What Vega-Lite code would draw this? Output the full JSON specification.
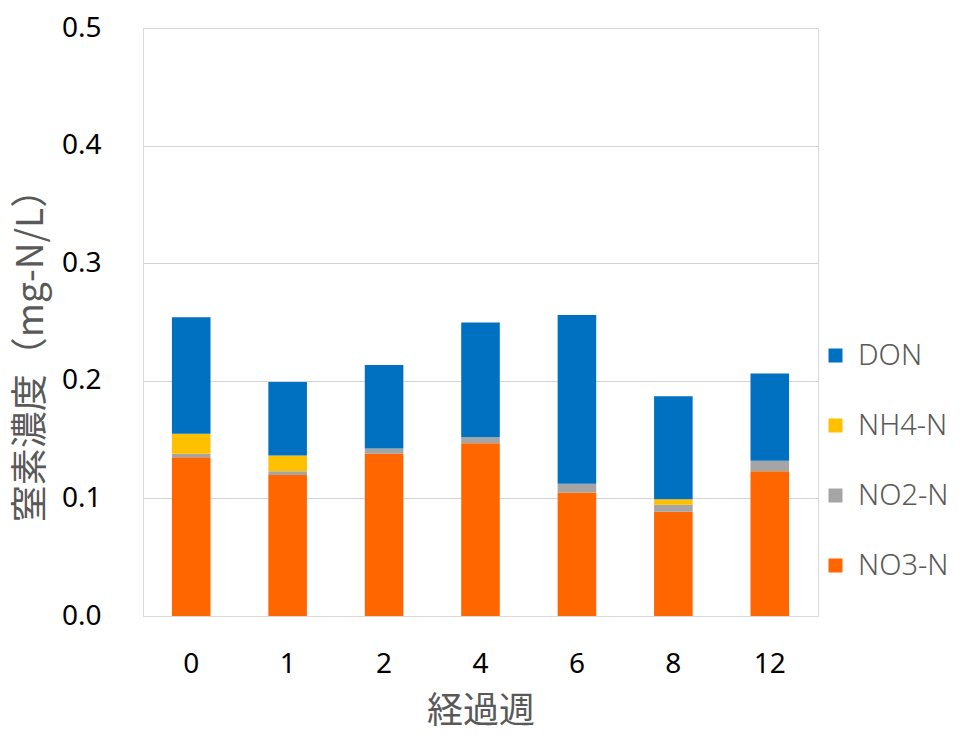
{
  "$schema": "https://vega.github.io/schema/vega-lite/v6.json",
  "width": 675,
  "height": 588,
  "autosize": {"type": "none"},
  "padding": {"left": 143, "top": 28, "right": 142, "bottom": 118},
  "background": "white",
  "config": {
    "view": {"stroke": "#d9d9d9", "strokeWidth": 1},
    "font": "Noto Sans"
  },
  "data": {
    "values": [
      {"week": "0", "species": "NO3-N", "o": 1, "value": 0.135},
      {"week": "0", "species": "NO2-N", "o": 2, "value": 0.003},
      {"week": "0", "species": "NH4-N", "o": 3, "value": 0.017},
      {"week": "0", "species": "DON", "o": 4, "value": 0.099},
      {"week": "1", "species": "NO3-N", "o": 1, "value": 0.120},
      {"week": "1", "species": "NO2-N", "o": 2, "value": 0.003},
      {"week": "1", "species": "NH4-N", "o": 3, "value": 0.0135},
      {"week": "1", "species": "DON", "o": 4, "value": 0.0625},
      {"week": "2", "species": "NO3-N", "o": 1, "value": 0.138},
      {"week": "2", "species": "NO2-N", "o": 2, "value": 0.0045},
      {"week": "2", "species": "NH4-N", "o": 3, "value": 0.0},
      {"week": "2", "species": "DON", "o": 4, "value": 0.071},
      {"week": "4", "species": "NO3-N", "o": 1, "value": 0.147},
      {"week": "4", "species": "NO2-N", "o": 2, "value": 0.005},
      {"week": "4", "species": "NH4-N", "o": 3, "value": 0.0},
      {"week": "4", "species": "DON", "o": 4, "value": 0.0975},
      {"week": "6", "species": "NO3-N", "o": 1, "value": 0.105},
      {"week": "6", "species": "NO2-N", "o": 2, "value": 0.0075},
      {"week": "6", "species": "NH4-N", "o": 3, "value": 0.0},
      {"week": "6", "species": "DON", "o": 4, "value": 0.1435},
      {"week": "8", "species": "NO3-N", "o": 1, "value": 0.0887},
      {"week": "8", "species": "NO2-N", "o": 2, "value": 0.006},
      {"week": "8", "species": "NH4-N", "o": 3, "value": 0.0045},
      {"week": "8", "species": "DON", "o": 4, "value": 0.0876},
      {"week": "12", "species": "NO3-N", "o": 1, "value": 0.123},
      {"week": "12", "species": "NO2-N", "o": 2, "value": 0.009},
      {"week": "12", "species": "NH4-N", "o": 3, "value": 0.0},
      {"week": "12", "species": "DON", "o": 4, "value": 0.0743}
    ]
  },
  "mark": {"type": "bar"},
  "encoding": {
    "x": {
      "field": "week",
      "type": "ordinal",
      "sort": ["0", "1", "2", "4", "6", "8", "12"],
      "scale": {"paddingInner": 0.6, "paddingOuter": 0.3},
      "axis": {
        "title": "経過週",
        "titleFont": "Noto Sans CJK JP",
        "titleFontSize": 36,
        "titleFontWeight": "normal",
        "titleColor": "#595959",
        "titlePadding": 16,
        "labelAngle": 0,
        "labelFontSize": 28,
        "labelColor": "#000000",
        "labelPadding": 34,
        "ticks": false,
        "domainColor": "#d9d9d9",
        "domainWidth": 1
      }
    },
    "y": {
      "field": "value",
      "type": "quantitative",
      "stack": "zero",
      "scale": {"domain": [0, 0.5], "nice": false},
      "axis": {
        "title": "窒素濃度（mg-N/L）",
        "titleFont": "Noto Sans CJK JP",
        "titleFontSize": 37,
        "titleFontWeight": "normal",
        "titleColor": "#595959",
        "titleAngle": -90,
        "titleX": -112,
        "titleY": 318,
        "titleAlign": "center",
        "titleBaseline": "middle",
        "values": [0, 0.1, 0.2, 0.3, 0.4, 0.5],
        "format": ".1f",
        "labelFontSize": 28,
        "labelColor": "#000000",
        "labelPadding": 42,
        "ticks": false,
        "domain": false,
        "gridColor": "#d4d4d4",
        "gridWidth": 1
      }
    },
    "color": {
      "field": "species",
      "type": "nominal",
      "scale": {
        "domain": ["DON", "NH4-N", "NO2-N", "NO3-N"],
        "range": ["#0070c0", "#ffc000", "#a5a5a5", "#ff6600"]
      },
      "legend": {
        "title": null,
        "orient": "none",
        "legendX": 678,
        "legendY": 313,
        "padding": 0,
        "symbolType": "square",
        "symbolSize": 196,
        "symbolStrokeWidth": 0,
        "labelFont": "Noto Sans",
        "labelFontSize": 29,
        "labelFontWeight": 300,
        "labelColor": "#595959",
        "labelOffset": 8,
        "rowPadding": 40
      }
    },
    "order": {"field": "o", "type": "quantitative", "sort": "ascending"}
  }
}
